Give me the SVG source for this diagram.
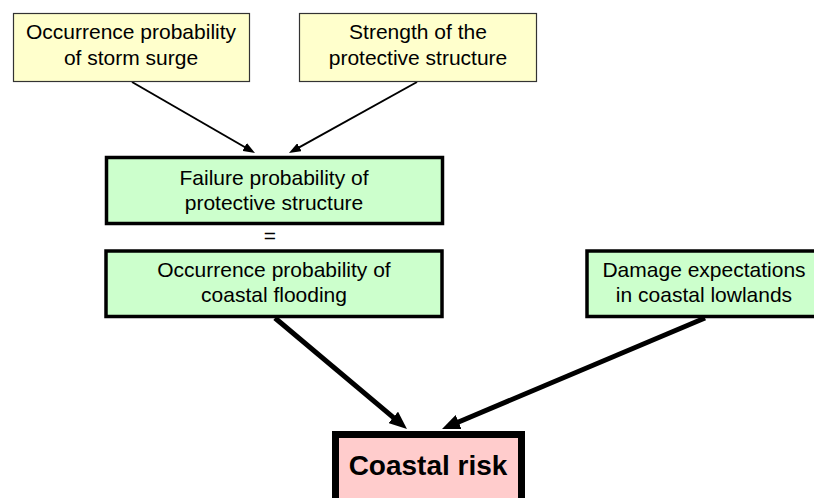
<svg xmlns="http://www.w3.org/2000/svg" width="814" height="498" viewBox="0 0 814 498">
<style>
text{font-family:"Liberation Sans",Arial,sans-serif;font-size:21px;fill:#000;text-anchor:middle}
.inp{fill:#FFFFCC;stroke:#333;stroke-width:1.2}
.mid{fill:#CCFFCC;stroke:#000;stroke-width:3.5}
.risk{fill:#FFCCCC;stroke:#000;stroke-width:7}
.big{font-weight:bold;font-size:28px}
.thin{stroke:#000;stroke-width:2;fill:none}
.thick{stroke:#000;stroke-width:5;fill:none}
</style>
<defs>
<marker id="ah" markerUnits="userSpaceOnUse" markerWidth="12" markerHeight="9" refX="6" refY="4.5" orient="auto"><path d="M0,0 L12,4.5 L0,9 z" fill="#000"/></marker>
<marker id="ahb" markerUnits="userSpaceOnUse" markerWidth="18" markerHeight="15" refX="9" refY="7.5" orient="auto"><path d="M0,0 L18,7.5 L0,15 z" fill="#000"/></marker>
</defs>
<g id="connectors">
<line class="thin" x1="132" y1="82" x2="249.8" y2="150" marker-end="url(#ah)"/>
<line class="thin" x1="417" y1="82" x2="294.2" y2="150.1" marker-end="url(#ah)"/>
<line class="thick" x1="275" y1="318" x2="400.1" y2="423.2" marker-end="url(#ahb)"/>
<line class="thick" x1="705" y1="318" x2="450.3" y2="425.5" marker-end="url(#ahb)"/>
</g>
<g id="storm-surge">
<rect class="inp" x="13.5" y="13.5" width="236" height="68"/>
<text x="131" y="39">Occurrence probability</text>
<text x="131" y="65">of storm surge</text>
</g>
<g id="strength">
<rect class="inp" x="299.5" y="13.5" width="237" height="68"/>
<text x="418" y="39">Strength of the</text>
<text x="418" y="65">protective structure</text>
</g>
<g id="failure">
<rect class="mid" x="106.5" y="157.5" width="336" height="66"/>
<text x="274" y="185">Failure probability of</text>
<text x="274" y="210">protective structure</text>
</g>
<g id="equals">
<text x="270" y="243">=</text>
</g>
<g id="flooding">
<rect class="mid" x="106" y="251" width="336" height="65.5"/>
<text x="274" y="277">Occurrence probability of</text>
<text x="274" y="302">coastal flooding</text>
</g>
<g id="damage">
<rect class="mid" x="587" y="251" width="240" height="65.5"/>
<text x="704" y="277">Damage expectations</text>
<text x="704" y="302">in coastal lowlands</text>
</g>
<g id="coastal-risk">
<rect class="risk" x="335.5" y="434.5" width="186" height="80"/>
<text class="big" x="428" y="475">Coastal risk</text>
</g>
</svg>
